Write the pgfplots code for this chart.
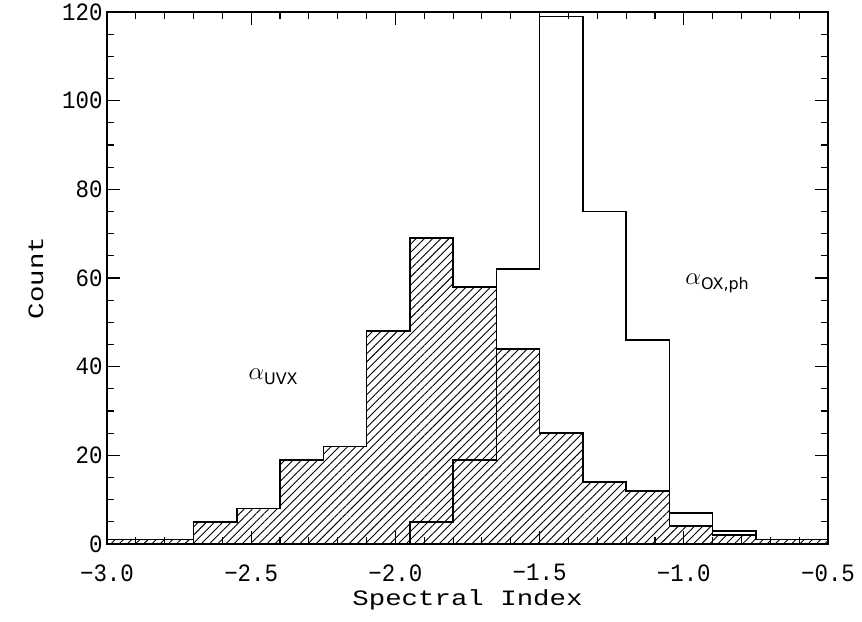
\documentclass[border=0pt]{standalone}
\usepackage{fontspec}
\setmainfont{Liberation Mono}
\newfontfamily\labelfont[FakeStretch=1.25]{Liberation Mono}
\newfontfamily\tickfont[FakeStretch=0.9]{Liberation Mono}
\usepackage{pgfplots}
\pgfplotsset{compat=1.18}
\usetikzlibrary{patterns.meta}
\newfontfamily\subfont{DejaVu Sans}

% alpha_UVX histogram (bin width 0.15)
\pgfplotstableread{
x y
-3.00 1
-2.85 1
-2.70 5
-2.55 8
-2.40 19
-2.25 22
-2.10 48
-1.95 69
-1.80 58
-1.65 44
-1.50 25
-1.35 14
-1.20 12
-1.05 4
-0.90 2
-0.75 1
-0.60 1
-0.50 1
}\uvx

% alpha_OX,ph histogram
\pgfplotstableread{
x y
-1.95 5
-1.80 19
-1.65 62
-1.50 119
-1.35 75
-1.20 46
-1.05 7
-0.90 3
-0.75 1
-0.60 1
-0.50 1
}\oxph

\begin{document}
\begin{tikzpicture}
\begin{axis}[
  scale only axis,
  width=721bp, height=532bp,
  xmin=-3, xmax=-0.5, ymin=0, ymax=120,
  axis line style={line width=1.3bp},
  xtick={-3,-2.5,-2,-1.5,-1,-0.5},
  xticklabels={−3.0,−2.5,−2.0,−1.5,−1.0,−0.5},
  ytick={0,20,40,60,80,100,120},
  yticklabels={0,20,40,60,80,100,120},
  minor x tick num=4, minor y tick num=3,
  tick align=inside,
  major tick length=13bp, minor tick length=7bp,
  every tick/.style={black, line width=1.1bp},
  tick label style={font=\tickfont\fontsize{25}{27}\selectfont},
  label style={font=\labelfont\fontsize{22}{25}\selectfont},
  xlabel={Spectral Index},
  ylabel={Count},
  xticklabel style={yshift=-17bp},
  yticklabel style={xshift=-1bp},
  xlabel style={yshift=-1bp},
  ylabel style={yshift=12bp},
  clip=false,
]
\addplot[const plot, line width=1.6bp, draw=black,
  pattern={Lines[angle=45, distance=5.8bp, line width=0.9bp]}]
  table[x=x, y=y] {\uvx} \closedcycle;
\addplot[const plot, line width=1.6bp, draw=black]
  table[x=x, y=y] {\oxph} \closedcycle;
\node[anchor=base west, inner sep=0pt] at (axis cs:-2.51,37)
  {\fontsize{28}{30}\selectfont$\alpha$\raisebox{-5bp}{\subfont\fontsize{16}{18}\selectfont UVX}};
\node[anchor=base west, inner sep=0pt] at (axis cs:-0.995,58.5)
  {\fontsize{28}{30}\selectfont$\alpha$\raisebox{-5bp}{\subfont\fontsize{16}{18}\selectfont OX,ph}};
\end{axis}
\path ([shift={(-107bp,-78bp)}]current axis.south west)
  rectangle ([shift={(34bp,12bp)}]current axis.north east);
\end{tikzpicture}
\end{document}
